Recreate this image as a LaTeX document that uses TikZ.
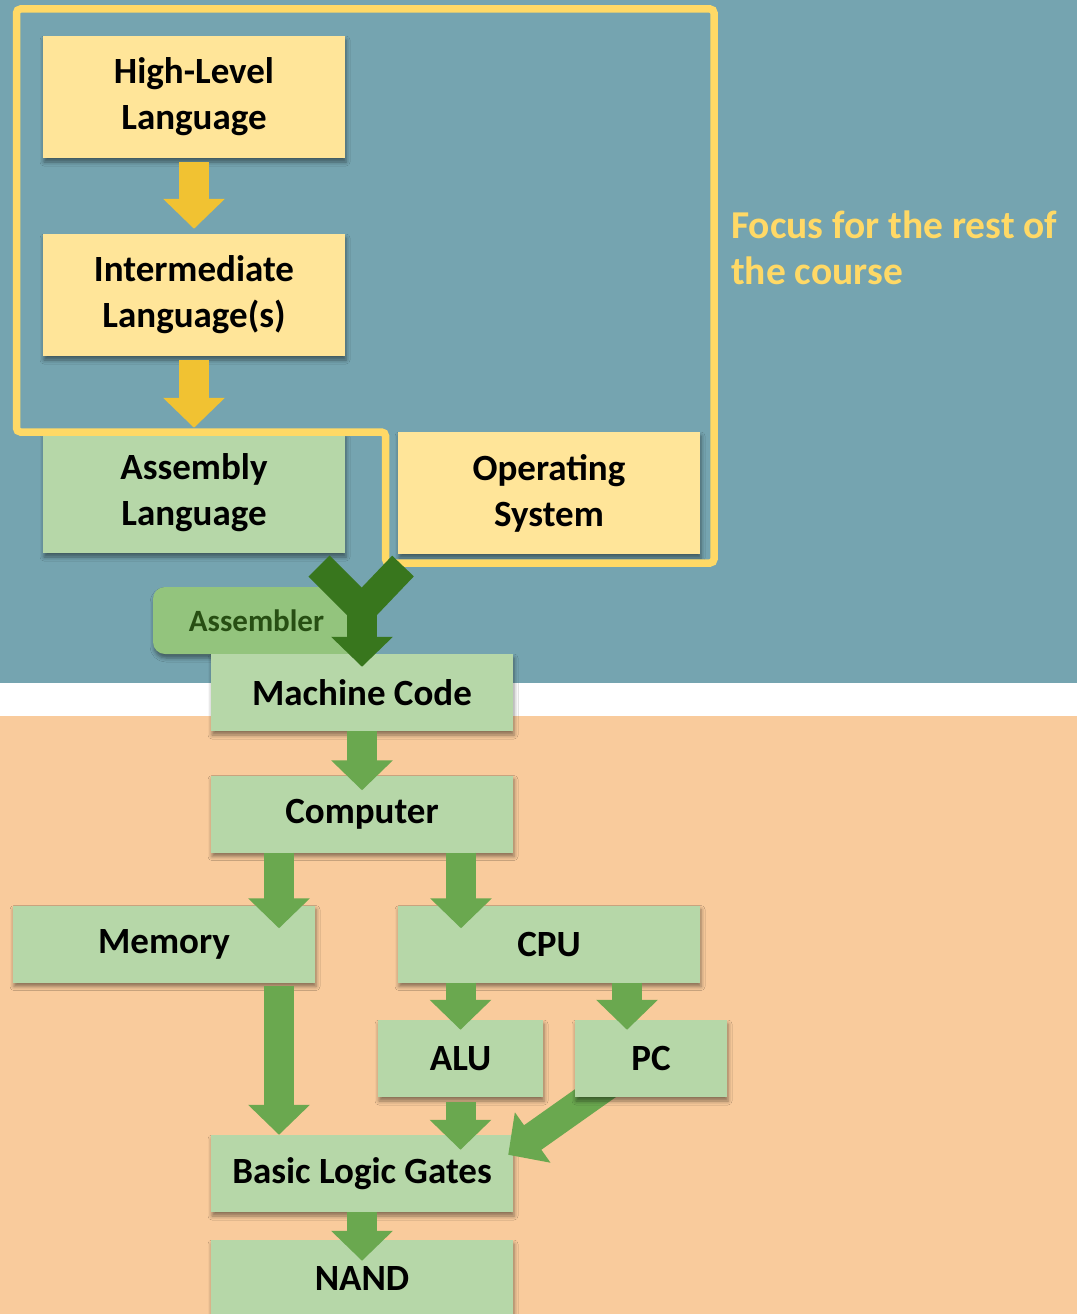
\documentclass[tikz,border=0pt]{standalone}
\usepackage{fontspec}
\setmainfont{Carlito}
\usetikzlibrary{arrows.meta,shadows.blur,calc}

\definecolor{slideblue}{RGB}{117,164,176}
\definecolor{slidepeach}{RGB}{249,203,156}
\definecolor{boxyellow}{RGB}{255,229,153}
\definecolor{boxgreen}{RGB}{182,215,168}
\definecolor{focusyellow}{RGB}{255,217,102}
\definecolor{arrowyellow}{RGB}{241,194,50}
\definecolor{arrowgreen}{RGB}{106,168,79}
\definecolor{darkgreen}{RGB}{56,118,29}
\definecolor{asmgreen}{RGB}{147,196,125}
\definecolor{asmtext}{RGB}{39,78,19}

\begin{document}
\begin{tikzpicture}[x=1pt,y=-1pt,
  every node/.style={font=\fontsize{37}{46}\selectfont\bfseries, align=center, inner sep=0pt},
  box/.style={minimum width=302pt, minimum height=77pt,
    blur shadow={shadow xshift=1pt, shadow yshift=-4pt, shadow blur radius=4pt, shadow opacity=45}},
  lang/.style={box, minimum height=122pt, fill=boxyellow},
  hw/.style={box, fill=boxgreen},
  yarrow/.style={draw=arrowyellow, line width=30pt, -{Triangle[length=30pt,width=60pt]}, shorten <=4pt, shorten >=5pt},
  garrow/.style={draw=arrowgreen, line width=30pt, -{Triangle[length=30pt,width=60pt]}},
  focusline/.style={draw=focusyellow, line width=7.5pt, rounded corners=4pt}]

% slide background
\fill[slideblue] (0,0) rectangle (1077,683);
\fill[white] (0,683) rectangle (1077,716);
\fill[slidepeach] (0,716) rectangle (1077,1314);
\useasboundingbox (0,0) rectangle (1077,1314);
\clip (0,0) rectangle (1077,1314);

% software stack
\node[lang] (hl) at (194,97) {High-Level\\Language};
\node[lang] (il) at (194,295) {Intermediate\\Language(s)};
\node[lang, fill=boxgreen, minimum height=120pt] (asm) at (194,493) {Assembly\\Language};
\node[lang] (os) at (549,493) {Operating\\System};
\node[box, fill=asmgreen, text=asmtext, rounded corners=12pt, minimum width=207pt, minimum height=67pt,
  font=\fontsize{31}{38}\selectfont\bfseries] (asmr) at (256.5,620.5) {Assembler};

% hardware stack
\node[hw] (mc) at (362,692.5) {Machine Code};
\node[hw] (cmp) at (362,814) {Computer};
\node[hw] (mem) at (164,944) {Memory};
\node[hw] (cpu) at (549,944) {CPU};
\node[hw, minimum width=165pt] (alu) at (460.5,1058.5) {ALU};
\node[hw] (blg) at (362,1173.5) {Basic Logic Gates};
\node[hw] (nand) at (362,1278.5) {NAND};

\coordinate (pcfoot) at (614,1080);
\coordinate (pctip) at ($(blg.north east)+(-5,20)$);
\draw[garrow] (pcfoot) -- (pctip);
\node[hw, minimum width=152pt] (pc) at (651,1058.5) {PC};

\draw[yarrow] (hl) -- (il);
\draw[yarrow] (il) -- (asm);

\coordinate (cmpl) at ($(cmp.south)+(-83,0)$);
\coordinate (cmpr) at ($(cmp.south)+(99,0)$);
\coordinate (pcin) at ($(pc.north)+(-24,0)$);
\draw[garrow, shorten >=-15pt] (mc) -- (cmp);
\draw[garrow, shorten >=-23pt] (cmpl) -- (cmpl |- mem.north);
\draw[garrow, shorten >=-23pt] (cmpr) -- (cmpr |- cpu.north);
\draw[garrow, shorten <=3pt] (mem.south -| cmpl) -- (cmpl |- blg.north);
\draw[garrow, shorten >=-10pt] (cpu.south -| alu.north) -- (alu.north);
\draw[garrow, shorten >=-10pt] (cpu.south -| pcin) -- (pcin);
\draw[garrow, shorten <=5pt, shorten >=-15pt] (alu.south) -- (alu.south |- blg.north);
\draw[garrow, shorten >=-21pt] (blg) -- (nand);

% focus region
\draw[focusline] (16.5,9) -- (714,9) -- (714,563) -- (385.5,563) -- (385.5,432) -- (16.5,432) -- cycle;
\node[text=focusyellow, align=left, anchor=base west, font=\fontsize{39.5}{46}\selectfont\bfseries] (focus) at (731,284) {Focus for the rest of\\the course};

% assembler joins both into machine code
\coordinate (yl) at (319,566);
\coordinate (yr) at (403,566);
\coordinate (yj) at (362,609);
\draw[darkgreen, line width=30pt, line join=miter] (yl) -- (yj) -- (yr);
\draw[darkgreen, line width=30pt, -{Triangle[length=30pt,width=60pt]}, shorten >=-13pt] (yj) -- (mc.north);
\end{tikzpicture}
\end{document}
